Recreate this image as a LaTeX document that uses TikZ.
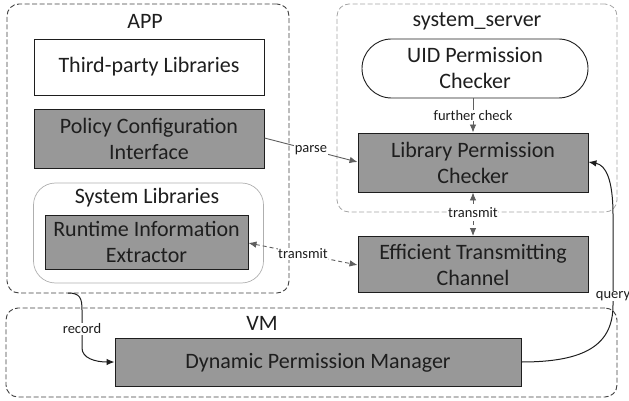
\documentclass[tikz,border=0pt]{standalone}
\usepackage{fontspec}
\setmainfont{Carlito}
\usetikzlibrary{arrows.meta}
\definecolor{boxgray}{RGB}{152,152,152}
\definecolor{inkdark}{RGB}{30,30,30}
\definecolor{arrowgray}{RGB}{95,95,95}
\definecolor{lightframe}{RGB}{165,165,165}
\definecolor{sysframe}{RGB}{175,175,175}
\begin{document}
\begin{tikzpicture}[x=1pt,y=-1pt,
  bigtext/.style={font=\fontsize{22}{26}\selectfont, text=inkdark, align=center},
  smalltext/.style={font=\fontsize{14.5}{17}\selectfont, text=inkdark, fill=white, inner sep=0.5pt},
  whitebox/.style={bigtext, draw=inkdark, line width=0.9pt, fill=white, inner sep=0pt},
  graybox/.style={bigtext, draw=inkdark, line width=0.9pt, fill=boxgray, inner sep=0pt},
  outerframe/.style={draw=inkdark!85, line width=0.9pt, dash pattern=on 5pt off 2.5pt, rounded corners=12pt, inner sep=0pt},
  lightouter/.style={draw=lightframe, line width=0.8pt, dash pattern=on 5pt off 2.5pt, rounded corners=12pt, inner sep=0pt},
  grayarrow/.style={draw=arrowgray, line width=0.9pt, -{Latex[length=8pt,width=6.5pt]}},
  dasharrow/.style={draw=arrowgray, line width=0.9pt, dash pattern=on 4pt off 3pt, {Latex[length=8pt,width=6.5pt]}-{Latex[length=8pt,width=6.5pt]}},
  blackarrow/.style={draw=inkdark, line width=1pt, -{Latex[length=8pt,width=6.5pt]}}
]
\useasboundingbox (0,0) rectangle (629,401);

% containers
\node[outerframe, minimum width=282pt, minimum height=289pt] (app) at (148,148.5) {};
\node[lightouter, minimum width=280pt, minimum height=208pt] (srv) at (477,108) {};
\node[outerframe, minimum width=611pt, minimum height=89pt] (vm) at (311.5,352.5) {};
\node[draw=sysframe, line width=0.7pt, rounded corners=22pt, minimum width=230pt, minimum height=100pt, inner sep=0pt] (syslib) at (148.5,233) {};

% container titles
\node[bigtext] (apptitle) at (145,21) {APP};
\node[bigtext] (srvtitle) at (477,21) {system\_server};
\node[bigtext] (vmtitle) at (262,323) {VM};
\node[bigtext] (syslibtitle) at (147,198) {System Libraries};

% components
\node[whitebox, minimum width=230pt, minimum height=56pt] (tpl) at (149,67) {Third-party Libraries};
\node[graybox, minimum width=230pt, minimum height=59pt] (pci) at (149,138.5) {Policy Configuration\\Interface};
\node[graybox, minimum width=203pt, minimum height=54pt] (rie) at (146.5,242) {Runtime Information\\Extractor};
\node[whitebox, rounded corners=29.5pt, minimum width=226pt, minimum height=59pt] (uid) at (475,68.5) {UID Permission\\Checker};
\node[graybox, minimum width=230pt, minimum height=59pt] (lpc) at (473,162.5) {Library Permission\\Checker};
\node[graybox, minimum width=230pt, minimum height=56pt] (etc) at (473,264.5) {Efficient Transmitting\\Channel};
\node[graybox, minimum width=406pt, minimum height=48pt] (dpm) at (318,362.5) {Dynamic Permission Manager};

% connectors
\draw[grayarrow] (uid.south -| 473,0) -- node[smalltext] (lblcheck) {further check} (lpc.north);
\draw[grayarrow] (pci.east |- 0,138) -- node[smalltext, pos=0.5] (lblparse) {parse} (lpc.west |- 0,162);
\draw[dasharrow] (lpc.south) -- node[smalltext, pos=0.47] (lbltv) {transmit} (etc.north);
\draw[dasharrow] (rie.east |- 0,243) -- node[smalltext, pos=0.5] (lblth) {transmit} (etc.west |- 0,265);

\coordinate (recstart) at (68,293);
\draw[blackarrow] (recstart) .. controls (80,293) and (82,298) .. (82,310)
  -- node[smalltext] (lblrecord) {record} (82,348)
  .. controls (82,358) and (95,362) .. (dpm.west |- 0,362);

\draw[blackarrow] (dpm.east |- 0,362) .. controls (585,362) and (613,345) .. (613,305)
  -- node[smalltext, pos=0.1] (lblquery) {query} (613,215)
  .. controls (613,180) and (606,165) .. (lpc.east |- 0,162);
\end{tikzpicture}
\end{document}
